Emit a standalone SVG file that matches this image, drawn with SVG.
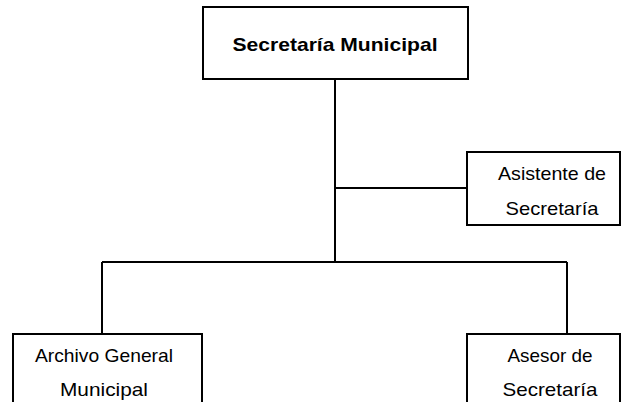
<svg xmlns="http://www.w3.org/2000/svg" width="631" height="402" viewBox="0 0 631 402">
<style>
.box{fill:#fff;stroke:#000;stroke-width:2}
.ln{fill:none;stroke:#000;stroke-width:2}
.t{font-family:"Liberation Sans",Arial,sans-serif;font-size:19px;fill:#000;text-anchor:middle}
.b{font-weight:bold}
</style>
<rect width="631" height="402" fill="#fff"/>
<g id="connectors">
<path class="ln" d="M335 79 V262 M335 188 H467 M102 262 H567 M102 262 V334 M567 262 V334"/>
</g>
<g id="n1">
<rect class="box" x="203" y="7" width="265" height="72"/>
<text class="t b" x="335" y="51" textLength="205" lengthAdjust="spacingAndGlyphs">Secretaría Municipal</text>
</g>
<g id="n2">
<rect class="box" x="467" y="152" width="153" height="73"/>
<text class="t" x="552" y="180" textLength="108" lengthAdjust="spacingAndGlyphs">Asistente de</text>
<text class="t" x="552" y="215" textLength="93" lengthAdjust="spacingAndGlyphs">Secretaría</text>
</g>
<g id="n3">
<rect class="box" x="13" y="334" width="189" height="80"/>
<text class="t" x="104" y="362" textLength="138" lengthAdjust="spacingAndGlyphs">Archivo General</text>
<text class="t" x="104" y="396" textLength="88" lengthAdjust="spacingAndGlyphs">Municipal</text>
</g>
<g id="n4">
<rect class="box" x="467" y="334" width="153" height="80"/>
<text class="t" x="550" y="362" textLength="85" lengthAdjust="spacingAndGlyphs">Asesor de</text>
<text class="t" x="550" y="396" textLength="95" lengthAdjust="spacingAndGlyphs">Secretaría</text>
</g>
</svg>
